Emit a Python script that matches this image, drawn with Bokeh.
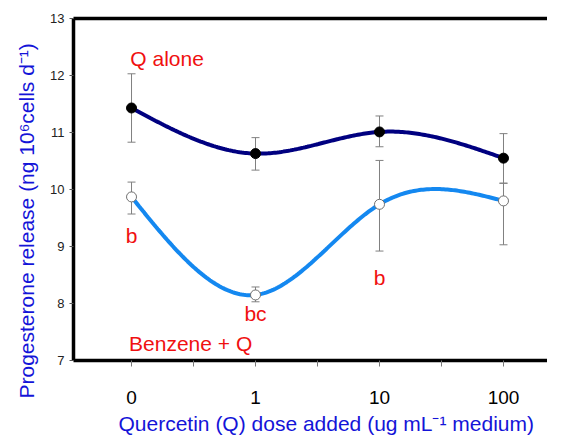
import numpy as np
from bokeh.plotting import figure
from bokeh.models import (ColumnDataSource, Range1d, FixedTicker, LinearAxis,
                          Whisker, TeeHead, Title)
from bokeh.core.properties import value
from bokeh.embed import file_html
from bokeh.resources import INLINE

# ---- data ----
doses = ["0", "1", "10", "100"]
q_alone = [11.43, 10.63, 11.01, 10.55]
q_alone_up = [12.03, 10.91, 11.29, 10.98]
q_alone_lo = [10.83, 10.34, 10.75, 10.11]
benz_q = [9.87, 8.15, 9.74, 9.80]
benz_q_up = [10.13, 8.29, 10.51, 10.11]
benz_q_lo = [9.57, 8.03, 8.92, 9.03]
letters = ["b", "bc", "b"]
letter_x = [0, 1, 2]
letter_y = [9.20, 7.82, 8.46]
series_labels = ["Q alone", "Benzene + Q"]
series_label_x = [-0.01, -0.02]
series_label_y = [12.30, 7.30]
x_title = "Quercetin (Q) dose added (ug mL\u207b\u00b9 medium)"
y_title = "Progesterone release (ng 10\u2076cells d\u207b\u00b9)"

FONT = "Liberation Sans"
BLUE = "#1414d8"
pos = np.arange(len(doses), dtype=float)


def natural_spline(xs, ys, n=200):
    xs = np.asarray(xs, float)
    ys = np.asarray(ys, float)
    m = len(xs)
    h = np.diff(xs)
    A = np.zeros((m, m))
    b = np.zeros(m)
    A[0, 0] = 1
    A[-1, -1] = 1
    for i in range(1, m - 1):
        A[i, i - 1] = h[i - 1]
        A[i, i] = 2 * (h[i - 1] + h[i])
        A[i, i + 1] = h[i]
        b[i] = 6 * ((ys[i + 1] - ys[i]) / h[i] - (ys[i] - ys[i - 1]) / h[i - 1])
    M = np.linalg.solve(A, b)
    xx = np.linspace(xs[0], xs[-1], n)
    yy = np.empty_like(xx)
    for k, x in enumerate(xx):
        i = min(np.searchsorted(xs, x, side="right") - 1, m - 2)
        hi = h[i]
        t1 = xs[i + 1] - x
        t0 = x - xs[i]
        yy[k] = (M[i] * t1 ** 3 / (6 * hi) + M[i + 1] * t0 ** 3 / (6 * hi)
                 + (ys[i] / hi - M[i] * hi / 6) * t1
                 + (ys[i + 1] / hi - M[i + 1] * hi / 6) * t0)
    return xx, yy


p = figure(width=547, height=437, output_backend="svg", toolbar_location=None,
           x_range=Range1d(-0.468, 3.355), y_range=Range1d(7, 13),
           min_border_left=73, min_border_right=0, min_border_top=18,
           min_border_bottom=75)
p.outline_line_color = None
p.grid.visible = False
p.background_fill_color = "white"

# axes styling
xa = p.xaxis[0]
xa.ticker = FixedTicker(ticks=list(pos), minor_ticks=[0.5, 1.5, 2.5])
xa.major_label_overrides = {i: d for i, d in enumerate(doses)}
xa.axis_line_width = 3.5
xa.axis_line_color = "black"
xa.major_tick_out = 6
xa.major_tick_in = 0
xa.minor_tick_out = 6
xa.minor_tick_in = 0
xa.major_tick_line_color = "#777777"
xa.minor_tick_line_color = "#777777"
xa.major_label_standoff = 24
xa.major_label_text_font = FONT
xa.major_label_text_font_size = "19px"
xa.major_label_text_color = "black"

ya = p.yaxis[0]
ya.ticker = FixedTicker(ticks=[7, 8, 9, 10, 11, 12, 13])
ya.axis_line_width = 3.5
ya.axis_line_color = "black"
ya.major_tick_out = 4
ya.major_tick_in = 0
ya.minor_tick_line_color = None
ya.major_tick_line_color = "#555555"
ya.major_label_standoff = 5
ya.major_label_text_font = FONT
ya.major_label_text_font_size = "13px"
ya.major_label_text_color = "#222222"

top = LinearAxis(ticker=FixedTicker(ticks=[]), axis_line_width=3.5,
                 axis_line_color="black", major_label_text_font_size="0px",
                 major_tick_line_color=None, minor_tick_line_color=None)
p.add_layout(top, "above")

# axis titles
p.add_layout(Title(text=x_title, text_font=FONT, text_font_size="21px",
                   text_color=BLUE, text_font_style="normal", align="left",
                   offset=45, standoff=6), "below")
p.add_layout(Title(text=y_title, text_font=FONT, text_font_size="21px",
                   text_color=BLUE, text_font_style="normal", align="left",
                   offset=-38, standoff=20), "left")

# error bars
for up, lo in ((q_alone_up, q_alone_lo), (benz_q_up, benz_q_lo)):
    src = ColumnDataSource(dict(base=pos, upper=up, lower=lo))
    w = Whisker(source=src, base="base", upper="upper", lower="lower",
                dimension="height", line_color="#808080", line_width=1,
                upper_head=TeeHead(size=8, line_color="#808080", line_width=1),
                lower_head=TeeHead(size=8, line_color="#808080", line_width=1),
                level="underlay")
    p.add_layout(w)

# smooth curves
xs1, ys1 = natural_spline(pos, q_alone)
p.line(xs1, ys1, line_color="#000080", line_width=4)
xs2, ys2 = natural_spline(pos, benz_q)
p.line(xs2, ys2, line_color="#1488f0", line_width=4)

# markers
p.scatter(pos, q_alone, size=10, fill_color="black", line_color="black")
p.scatter(pos, benz_q, size=10, fill_color="white", line_color="#707070",
          line_width=1)

# texts
p.text(x=series_label_x, y=series_label_y, text=series_labels,
       text_font=value(FONT), text_font_size="21px", text_color="#f01010",
       text_baseline="middle", text_align="left")
p.text(x=letter_x, y=letter_y, text=letters,
       text_font=value(FONT), text_font_size="21px", text_color="#f01010",
       text_baseline="middle", text_align="center")

open("out.html", "w").write(file_html(p, INLINE))
